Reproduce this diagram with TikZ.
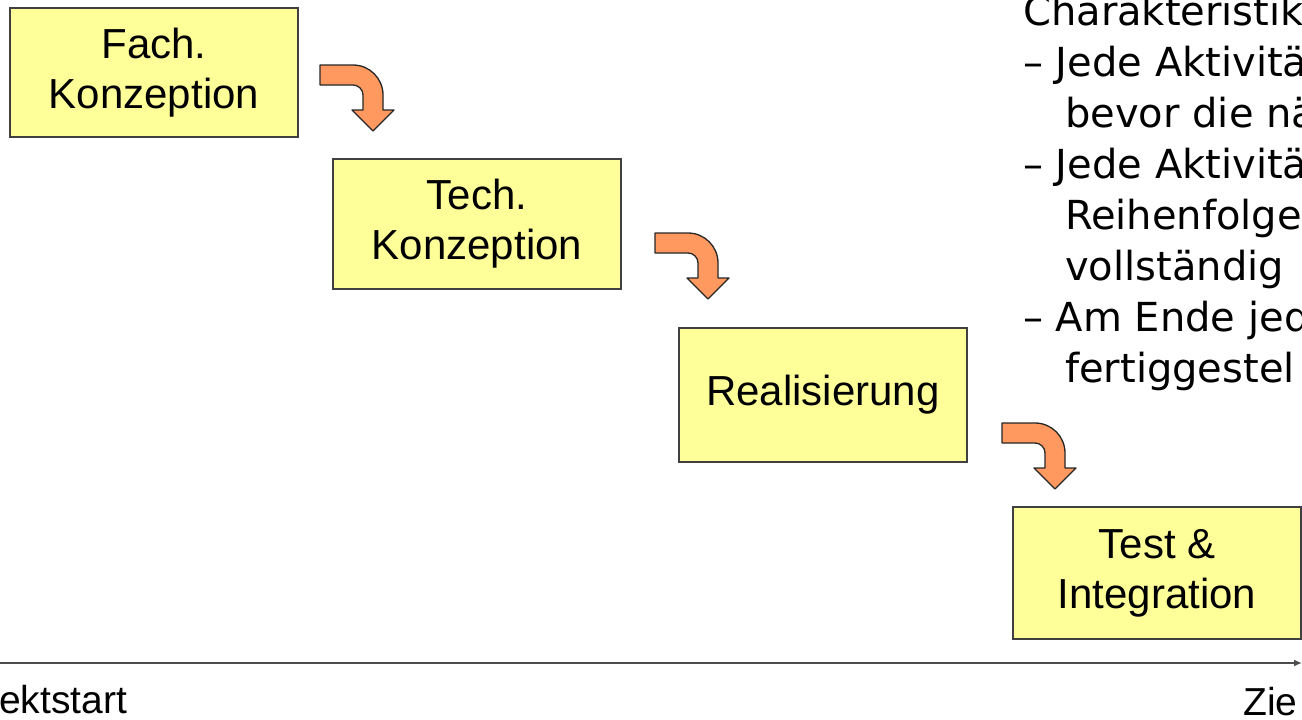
\documentclass[tikz,border=0pt]{standalone}
\usepackage{fontspec}
\setmainfont{Liberation Sans}
\newfontfamily\notefont{DejaVu Sans}
\usepackage{xcolor}
\definecolor{phaseYellow}{HTML}{FFFF99}
\definecolor{arrowOrange}{HTML}{FF9960}
\definecolor{frameGray}{HTML}{404040}
\usetikzlibrary{positioning,arrows.meta}

\begin{document}
\begin{tikzpicture}[x=1pt,y=-1pt,
  phasebox/.style={draw=frameGray, line width=2.4pt, fill=phaseYellow,
    minimum width=288pt, minimum height=130pt, inner sep=0pt, align=center,
    font=\fontsize{42}{50}\selectfont},
  timeline/.style={draw=black!70, line width=2.6pt, -{Latex[length=8pt,width=7pt]}},
  bendarrow/.pic={
    \draw[fill=arrowOrange, draw=black!85, line width=1.3pt, line join=round]
      (0,0) -- (33,0) .. controls (49.6,0) and (63,13.4) .. (63,30)
      -- (63,45) -- (74,45) -- (53,66) -- (32,45) -- (43,45) -- (43,30)
      .. controls (43,24.5) and (38.5,20) .. (33,20) -- (0,20) -- cycle;
  }]
  \useasboundingbox (0,0) rectangle (1302,720);
  \clip (0,0) rectangle (1302,720);
  % Phases of the waterfall
  \node[phasebox, minimum height=129pt] (fach) at (154,72.5) {Fach.\\Konzeption};
  \node[phasebox] (tech) at (477,224) {Tech.\\Konzeption};
  \node[phasebox, minimum height=134pt] (real) at (823,395) {Realisierung};
  \node[phasebox, minimum height=132pt] (test) at (1157,573) {Test \&\\Integration};
  % Bent arrows between the phases
  \pic at (320,65) {bendarrow};
  \pic at (655,233) {bendarrow};
  \pic at (1002,423) {bendarrow};
  % Time axis
  \coordinate (tstart) at (0,663);
  \coordinate (tend) at (1302,663);
  \draw[timeline] (tstart) -- (tend);
  \node[font=\fontsize{39}{44}\selectfont, anchor=base west, inner sep=0pt] (pstart) at (-1,713) {ektstart};
  \node[font=\fontsize{39}{44}\selectfont, anchor=base west, inner sep=0pt] (pziel) at (1243,715) {Zie};
  % Characteristics
  \node[anchor=north west, inner sep=0pt, align=left,
    font=\notefont\fontsize{40}{51}\selectfont] (notes) at (1023,-5)
    {Charakteristik\\
     – Jede Aktivitä\\
     \hspace*{42pt}bevor die nä\\
     – Jede Aktivitä\\
     \hspace*{42pt}Reihenfolge\\
     \hspace*{42pt}vollständig\\
     – Am Ende jed\\
     \hspace*{42pt}fertiggestel};
\end{tikzpicture}
\end{document}
